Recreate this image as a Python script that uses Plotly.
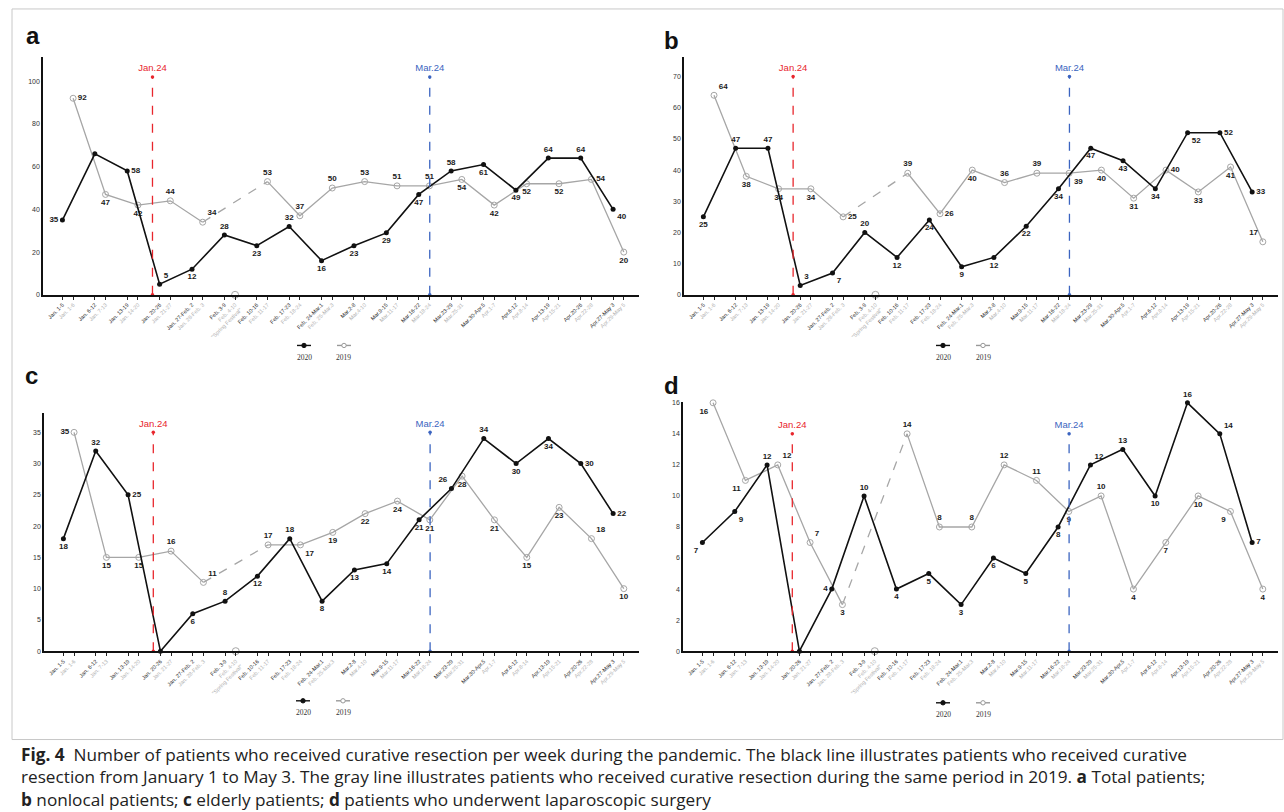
import plotly.graph_objects as go

W, H = 1284, 812

# ---------------- data ----------------
weeks_2020 = ["Jan. 1-5", "Jan. 6-12", "Jan. 13-19", "Jan. 20-26", "Jan. 27-Feb. 2",
              "Feb. 3-9", "Feb. 10-16", "Feb. 17-23", "Feb. 24-Mar.1", "Mar.2-8",
              "Mar.9-15", "Mar.16-22", "Mar.23-29", "Mar.30-Apr.5", "Apr.6-12",
              "Apr.13-19", "Apr.20-26", "Apr.27-May 3"]
weeks_2019 = ["Jan. 1-6", "Jan. 7-13", "Jan. 14-20", "Jan. 21-27", "Jan. 28-Feb. 3",
              "Feb. 4-10<br>\"Spring Festival\"", "Feb. 11-17", "Feb. 18-24", "Feb. 25-Mar.3",
              "Mar.4-10", "Mar.11-17", "Mar.18-24", "Mar.25-31", "Apr.1-7", "Apr.8-14",
              "Apr.15-21", "Apr.22-28", "Apr.29-May 5"]

total_2020 = [35, 66, 58, 5, 12, 28, 23, 32, 16, 23, 29, 47, 58, 61, 49, 64, 64, 40]
total_2019 = [92, 47, 42, 44, 34, 0, 53, 37, 50, 53, 51, 51, 54, 42, 52, 52, 54, 20]
nonlocal_2020 = [25, 47, 47, 3, 7, 20, 12, 24, 9, 12, 22, 34, 47, 43, 34, 52, 52, 33]
nonlocal_2019 = [64, 38, 34, 34, 25, 0, 39, 26, 40, 36, 39, 39, 40, 31, 40, 33, 41, 17]
elderly_2020 = [18, 32, 25, 0, 6, 8, 12, 18, 8, 13, 14, 21, 26, 34, 30, 34, 30, 22]
elderly_2019 = [35, 15, 15, 16, 11, 0, 17, 17, 19, 22, 24, 21, 28, 21, 15, 23, 18, 10]
lap_2020 = [7, 9, 12, 0, 4, 10, 4, 5, 3, 6, 5, 8, 12, 13, 10, 16, 14, 7]
lap_2019 = [16, 11, 12, 7, 3, 0, 14, 8, 8, 12, 11, 9, 10, 4, 7, 10, 9, 4]

spring_festival_idx = 5
jan24_pos = 2.78
mar24_pos = 11.34

# label placements (None = unlabeled)
TC, BC, MR, ML, TR, TL, BR, BL = ("top center", "bottom center", "middle right", "middle left",
                                  "top right", "top left", "bottom right", "bottom left")
pos_a20 = [ML, None, MR, TR, BC, TC, BC, TC, BC, BC, BC, BC, TC, BC, BC, TC, TC, BR]
pos_a19 = [MR, BC, BC, TC, TR, None, TC, TC, TC, TC, TC, TC, BC, BC, BC, BC, MR, BC]
pos_b20 = [BC, TC, TC, TR, BR, TC, BC, BC, BC, BC, BC, BC, BC, BC, BC, BR, MR, MR]
pos_b19 = [TR, BC, BC, BC, MR, None, TC, MR, BC, TC, TC, BR, BC, BC, MR, BC, BC, TL]
pos_c20 = [BC, TC, MR, None, BC, TC, BC, TC, BC, BC, BC, BC, TL, TC, BC, BC, MR, MR]
pos_c19 = [ML, BC, BC, TC, TR, None, TC, BR, BC, BC, BC, BC, BC, BC, BC, BC, TR, BC]
pos_d20 = [BL, BR, TC, None, ML, TC, BC, BC, BC, BC, BC, BC, TR, TC, BC, TC, TR, MR]
pos_d19 = [BL, BL, TR, TR, BC, None, TC, TC, TC, TC, TC, BC, TC, BC, BC, BC, BL, BC]

panels = [
    dict(key="a", v20=total_2020, v19=total_2019, p20=pos_a20, p19=pos_a19,
         yr=[0, 111.5], dt=20, vtop=102, px=(43, 639), py=(54, 294), lab=(33, 33), leg=(304, 344, 345)),
    dict(key="b", v20=nonlocal_2020, v19=nonlocal_2019, p20=pos_b20, p19=pos_b19,
         yr=[0, 76.4], dt=10, vtop=70, px=(684, 1278), py=(54, 294), lab=(672, 38), leg=(943, 983, 345)),
    dict(key="c", v20=elderly_2020, v19=elderly_2019, p20=pos_c20, p19=pos_c19,
         yr=[0, 38.1], dt=5, vtop=35, px=(44, 639), py=(413, 653), lab=(31, 375), leg=(303, 343, 703)),
    dict(key="d", v20=lap_2020, v19=lap_2019, p20=pos_d20, p19=pos_d19,
         yr=[0, 16.05], dt=2, vtop=14, px=(683, 1278), py=(402, 653), lab=(672, 385), leg=(943, 983, 705)),
]

BLACK = "#111111"
GRAY = "#a6a6a6"
RED = "#e8262d"
BLUE = "#3b64c0"
LABEL_FONT = dict(family="Liberation Sans, Arial", size=8, color="#1a1a1a", weight="bold")

n = len(weeks_2020)
x20 = [float(i) for i in range(n)]
x19 = [i + 0.33 for i in range(n)]

fig = go.Figure()
shapes = []
annotations = []


def px2x(p):
    return p / W


def px2y(p):
    return 1 - p / H


tickvals = x20 + x19
ticktext = ([f'<span style="color:#2a2a2a">{t}</span>' for t in weeks_2020] +
            [f'<span style="color:#b0b0b0">{t}</span>' for t in weeks_2019])

for k, P in enumerate(panels):
    sfx = "" if k == 0 else str(k + 1)
    xa, ya = "x" + sfx, "y" + sfx

    # 2019 gray: solid parts with gap at Spring Festival
    g = list(P["v19"])
    solid = [None if i == spring_festival_idx else v for i, v in enumerate(g)]
    i0, i1 = spring_festival_idx - 1, spring_festival_idx + 1
    fig.add_trace(go.Scatter(x=[x19[i0], x19[i1]], y=[g[i0], g[i1]], mode="lines",
                             line=dict(color=GRAY, width=1.3, dash="dash"),
                             xaxis=xa, yaxis=ya, showlegend=False, hoverinfo="skip"))
    fig.add_trace(go.Scatter(x=x19, y=solid, mode="lines+markers+text",
                             line=dict(color=GRAY, width=1.3),
                             marker=dict(symbol="circle-open", size=6, color=GRAY, line=dict(width=1)),
                             text=[("" if p is None else str(v)) for v, p in zip(g, P["p19"])],
                             textposition=[(p or "top center") for p in P["p19"]],
                             textfont=LABEL_FONT, cliponaxis=False,
                             connectgaps=False, xaxis=xa, yaxis=ya, showlegend=False, name="2019"))
    fig.add_trace(go.Scatter(x=[x19[spring_festival_idx]], y=[g[spring_festival_idx]], mode="markers",
                             marker=dict(symbol="circle-open", size=7, color=GRAY, line=dict(width=1)),
                             cliponaxis=False, xaxis=xa, yaxis=ya, showlegend=False))

    # 2020 black
    b = P["v20"]
    fig.add_trace(go.Scatter(x=x20, y=b, mode="lines+markers+text",
                             line=dict(color=BLACK, width=1.6),
                             marker=dict(symbol="circle", size=5, color=BLACK),
                             text=[("" if p is None else str(v)) for v, p in zip(b, P["p20"])],
                             textposition=[(p or "top center") for p in P["p20"]],
                             textfont=LABEL_FONT, cliponaxis=False,
                             xaxis=xa, yaxis=ya, showlegend=False, name="2020"))

    # reference lines
    for xpos, col, lab in [(jan24_pos, RED, "Jan.24"), (mar24_pos, BLUE, "Mar.24")]:
        fig.add_trace(go.Scatter(x=[xpos, xpos], y=[0, P["vtop"]], mode="lines+markers+text",
                                 line=dict(color=col, width=1.3, dash="dash"),
                                 marker=dict(size=3.5, color=col),
                                 text=["", lab], textposition="top center",
                                 textfont=dict(family="Liberation Sans, Arial", size=9.5, color=col),
                                 cliponaxis=False, xaxis=xa, yaxis=ya, showlegend=False))

    x0, x1 = P["px"]
    y0, y1 = P["py"]
    fig.layout["xaxis" + sfx] = dict(domain=[px2x(x0), px2x(x1)], anchor=ya, range=[-0.6, 17.8],
                                    tickvals=tickvals, ticktext=ticktext, tickangle=-45,
                                    tickfont=dict(family="Liberation Sans, Arial", size=5.5),
                                    ticks="outside", ticklen=3, tickwidth=1, tickcolor="#222",
                                    showline=True, linecolor="#111", linewidth=1.5,
                                    showgrid=False, zeroline=False)
    fig.layout["yaxis" + sfx] = dict(domain=[px2y(y1), px2y(y0)], anchor=xa, range=P["yr"], dtick=P["dt"],
                                    tickfont=dict(family="Liberation Sans, Arial", size=7, color="#333"),
                                    ticks="", showline=True, linecolor="#111", linewidth=1.5,
                                    showgrid=False, zeroline=False)

    # panel letter
    lx, ly = P["lab"]
    annotations.append(dict(x=px2x(lx), y=px2y(ly), xref="paper", yref="paper", text=f"<b>{P['key']}</b>",
                            showarrow=False, xanchor="center", yanchor="middle",
                            font=dict(family="Liberation Sans, Arial", size=24, color="#111")))

    # legend (symbol above label)
    c20, c19, lyy = P["leg"]
    for cx, col, txt, filled in [(c20, BLACK, "2020", True), (c19, "#999", "2019", False)]:
        shapes.append(dict(type="line", xref="paper", yref="paper", x0=px2x(cx - 7), x1=px2x(cx + 7),
                           y0=px2y(lyy), y1=px2y(lyy), line=dict(color=col, width=1.4)))
        shapes.append(dict(type="circle", xref="paper", yref="paper", x0=px2x(cx - 2.2), x1=px2x(cx + 2.2),
                           y0=px2y(lyy + 2.2), y1=px2y(lyy - 2.2),
                           fillcolor=(col if filled else "white"), line=dict(color=col, width=1)))
        annotations.append(dict(x=px2x(cx), y=px2y(lyy + 12), xref="paper", yref="paper", text=txt,
                                showarrow=False, xanchor="center", yanchor="middle",
                                font=dict(family="Liberation Serif, Times New Roman", size=7.5, color="#333")))

# frame and caption
shapes.append(dict(type="rect", xref="paper", yref="paper", x0=px2x(12), x1=px2x(1283), y0=px2y(742),
                   y1=px2y(6), line=dict(color="#c8c8c8", width=1), layer="below"))

cap_font = dict(family="Open Sans, Noto Sans, Arial", size=17.2, color="#222")
cap_lines = [
    "<b>Fig. 4</b>  Number of patients who received curative resection per week during the pandemic. The black line illustrates patients who received curative",
    "resection from January 1 to May 3. The gray line illustrates patients who received curative resection during the same period in 2019. <b>a</b> Total patients;",
    "<b>b</b> nonlocal patients; <b>c</b> elderly patients; <b>d</b> patients who underwent laparoscopic surgery",
]
annotations.append(dict(x=px2x(20), y=px2y(744), xref="paper", yref="paper", text="<br>".join(cap_lines),
                        showarrow=False, xanchor="left", yanchor="top", align="left", font=cap_font,
                        borderpad=0))

fig.update_layout(width=W, height=H, margin=dict(l=0, r=0, t=0, b=0),
                  paper_bgcolor="white", plot_bgcolor="white",
                  shapes=shapes, annotations=annotations, showlegend=False)

fig.write_html("out.html")
